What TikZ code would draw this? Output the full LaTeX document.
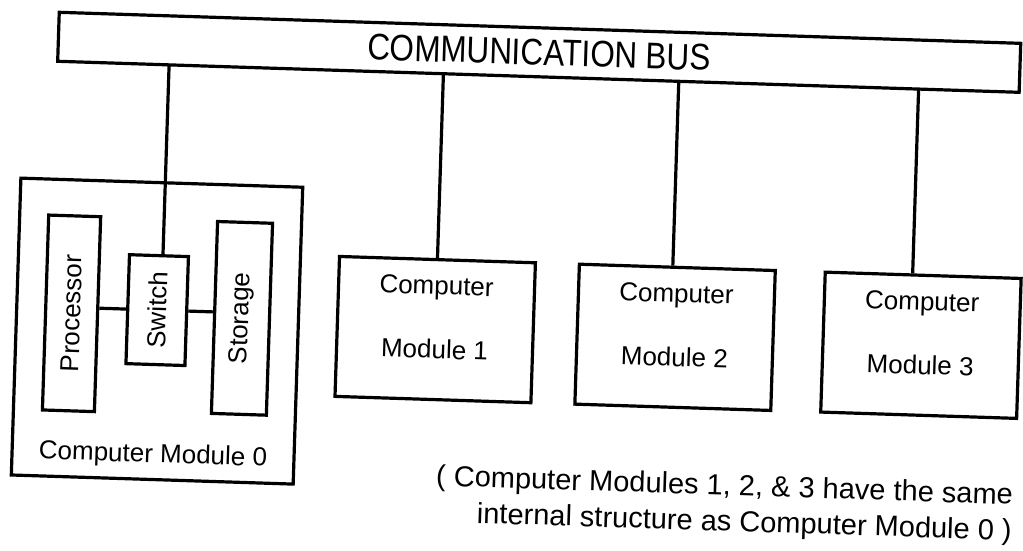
\documentclass[tikz,border=0pt]{standalone}
\usepackage{fontspec}
\usepackage{graphicx}
\setmainfont{Liberation Sans}
\newfontfamily\busfont[FakeStretch=0.85]{Liberation Sans}
\usepackage{tikz}

\tikzset{
  box/.style={draw, line width=3.2pt, inner sep=0pt},
  unit/.style={box, font=\fontsize{26}{30}\selectfont},
  module/.style={box, minimum width=196, minimum height=140},
  modtext/.style={anchor=base, align=center, inner sep=0pt, font=\fontsize{26}{64}\selectfont},
  wire/.style={line width=3.2pt},
}

\begin{document}
\begin{tikzpicture}[x=1pt, y=-1pt]
\useasboundingbox (0,0) rectangle (1023,550);
\begin{scope}[rotate around={-1.85:(511,275)}, every node/.style={transform shape}]
    % bus along the top
    \node[box, minimum width=962, minimum height=49, font=\busfont\fontsize{37}{40}\selectfont] (bus) at (532,51.5) {COMMUNICATION BUS};
    % module 0 and its parts
    \node[box, minimum width=282, minimum height=297] (mod0) at (159,342.5) {};
    \node[unit, minimum width=52, minimum height=195] (proc) at (73,327.5) {\rotatebox{90}{Processor}};
    \node[unit, minimum width=59, minimum height=109] (switch) at (158.5,321.5) {\rotatebox{90}{Switch}};
    \node[unit, minimum width=55, minimum height=192] (store) at (243.5,327) {\rotatebox{90}{Storage}};
    \node[anchor=base, font=\fontsize{26}{30}\selectfont] (mod0name) at (159,474) {Computer Module 0};
    \draw[wire] (switch.west) -- (switch.west -| proc.east);
    \draw[wire] (switch.east) -- (switch.east -| store.west);
    % modules 1 to 3
    \node[module] (mod1) at (437,332) {};
    \node[module] (mod2) at (677,332) {};
    \node[module] (mod3) at (923,332) {};
    \foreach \m in {1,2,3}
        \node[modtext] (name\m) at ([yshift=-29pt]mod\m.center) {Computer\\Module \m};
    % taps on the bus
    \coordinate (tap0) at (162.5,76);
    \coordinate (tap1) at (437,76);
    \coordinate (tap2) at (672.5,76);
    \coordinate (tap3) at (912.5,76);
    \draw[wire] ([xshift=4pt]switch.north) -- (tap0);
    \draw[wire] (mod1.north) -- (tap1);
    \draw[wire] ([xshift=-4.5pt]mod2.north) -- (tap2);
    \draw[wire] ([xshift=-10.5pt]mod3.north) -- (tap3);
    \node[anchor=base east, align=right, inner sep=0pt, font=\fontsize{29}{36}\selectfont] (note) at (1020,524)
        {( Computer Modules 1, 2, \& 3 have the same\\internal structure as Computer Module 0 )};
\end{scope}
\end{tikzpicture}
\end{document}
